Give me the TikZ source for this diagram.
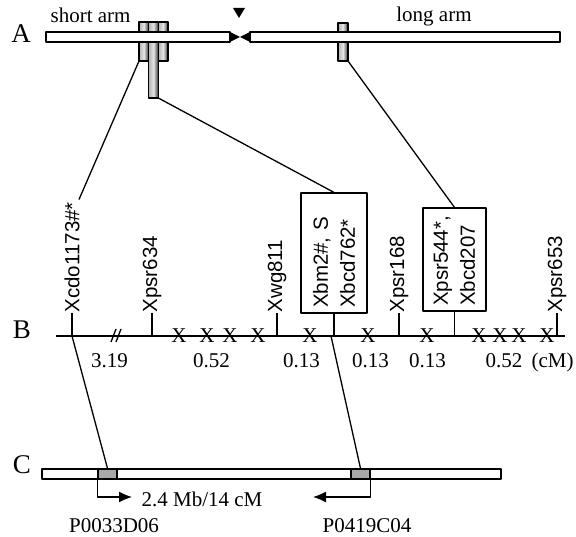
\documentclass[tikz,border=0pt]{standalone}
\usepackage{fontspec}
\setmainfont{Liberation Serif}
\setsansfont{Liberation Sans}
\usetikzlibrary{arrows.meta,calc}
\definecolor{bacgray}{RGB}{168,168,168}

\tikzset{
  arm/.style={draw,fill=white,line width=1.3pt},
  band/.style={draw,line width=1.2pt,left color=gray!60,right color=black!80,middle color=gray!20},
  mk/.style={font=\sffamily\fontsize{20.5}{27}\selectfont,rotate=90,anchor=west,inner sep=0pt},
  mbox/.style={draw,line width=1.2pt,font=\sffamily\fontsize{20.5}{27}\selectfont,rotate=90,align=left,inner sep=5pt},
  xo/.style={font=\fontsize{21}{21}\selectfont,inner sep=0pt},
  num/.style={font=\fontsize{21}{21}\selectfont,anchor=base,inner sep=0pt},
  sec/.style={font=\fontsize{27}{27}\selectfont,inner sep=0pt},
  bac/.style={draw,fill=bacgray,line width=1.2pt,minimum width=19pt,minimum height=10pt,inner sep=0pt},
}

\begin{document}
\begin{tikzpicture}[x=1pt,y=-1pt,line width=1.3pt,line join=round]
  \useasboundingbox (0,0) rectangle (576,537);
  % A: chromosome with bands
  \draw[band] (139,22) rectangle (148.7,61); \draw[band] (148.7,22) rectangle (158.3,98);
  \draw[band] (158.3,22) rectangle (168,61); \draw[band] (338,23) rectangle (348,61);
  \draw[arm] (46,32) rectangle (230,42); \draw[arm] (250,32) rectangle (560,42);
  \fill (230,32) -- (240,37) -- (230,42) -- cycle; \fill (250,32) -- (240,37) -- (250,42) -- cycle;
  \fill (233,8) -- (245,8) -- (239,18) -- cycle;
  \node[sec] (lA) at (21,34) {A}; \node[sec] (lB) at (22,330) {B}; \node[sec] (lC) at (22,465) {C};
  \node[num,anchor=base west] (sarm) at (50,23) {short arm}; \node[num] (larm) at (434,22) {long arm};
  \coordinate (b1) at (139,61); \coordinate (b2) at (158.3,98); \coordinate (b3) at (348,61);
  % B: genetic map
  \coordinate (Bl) at (56,336); \coordinate (Br) at (565,336);
  \draw (Bl) -- (Br);
  \draw (111,342) -- (116,329) (116,342) -- (121,329);
  \foreach \x/\n/\t in {72/cdo/Xcdo1173\#*,152/psr634/Xpsr634,277/wg811/Xwg811,399/psr168/Xpsr168,557/psr653/Xpsr653}
    {\node[mk] (\n) at (\x,313) {\t}; \draw (\n.west) -- (\n.west |- Bl);}
  \node[mbox,minimum height=66pt,text width=110pt] (bm) at (334,253) {Xbm2\#, S\\Xbcd762*};
  \node[mbox,minimum height=63pt,text width=93pt] (psr) at (454.5,259.5) {Xpsr544*,\\Xbcd207};
  \draw (bm.west) -- (bm.west |- Bl); \draw (psr.west) -- (psr.west |- Bl);
  \foreach \x in {179,207,230,258,310,368,427,479,500,519,547} \node[xo] (x\x) at (\x,336) {X};
  \foreach \x/\t [count=\i] in {109.5/3.19,211.5/0.52,301.5/0.13,370.5/0.13,427.5/0.13,504/0.52,552.5/(cM)}
    \node[num] (cm\i) at (\x,367.5) {\t};
  \draw (b1) -- ($(cdo.east)+(7,-2)$); \draw (b2) -- (bm.east);
  \draw (b3) -- (psr.east);
  % C: physical map
  \draw[arm] (42,469) rectangle (501,479);
  \node[bac] (p33) at (107.5,474) {}; \node[bac] (p419) at (360.5,474) {};
  \coordinate (c1) at (72,336); \coordinate (c2) at (331,336);
  \draw (c1) -- (p33.north); \draw (c2) -- (p419.north);
  \coordinate (a1) at (132,497); \coordinate (a2) at (313,497);
  \draw[-{Latex[length=13pt,width=11pt]}] (p33.south west) |- (a1);
  \draw[-{Latex[length=13pt,width=11pt]}] (p419.south east) |- (a2);
  \node[num,anchor=base west] (dist) at (141,506) {2.4 Mb/14 cM};
  \node[num] (pl) at (114,532) {P0033D06}; \node[num] (pr) at (367,532) {P0419C04};
\end{tikzpicture}
\end{document}
